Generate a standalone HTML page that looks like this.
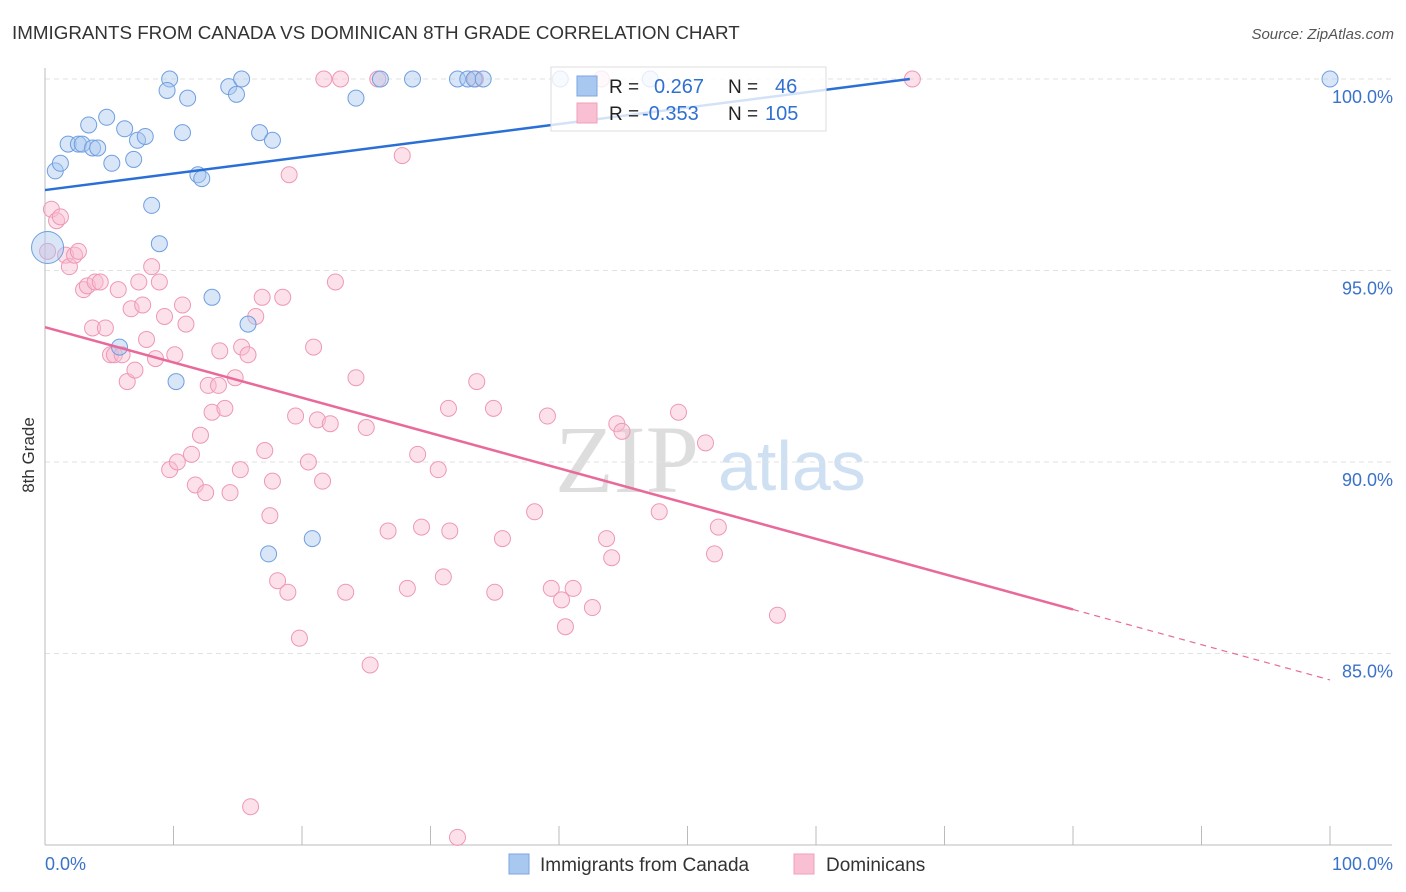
<!DOCTYPE html>
<html><head><meta charset="utf-8"><style>
body{margin:0;background:#fff;font-family:"Liberation Sans",sans-serif;}
#wrap{position:relative;width:1406px;height:892px;overflow:hidden;}
</style></head><body>
<div id="wrap">
<svg id="svg" width="1406" height="892" xmlns="http://www.w3.org/2000/svg">
<text x="12" y="39" font-size="18.8" fill="#333">IMMIGRANTS FROM CANADA VS DOMINICAN 8TH GRADE CORRELATION CHART</text>
<text x="1394" y="39" font-size="15" fill="#555" text-anchor="end" font-style="italic">Source: ZipAtlas.com</text>
<text x="34" y="455" font-size="17" fill="#333" text-anchor="middle" transform="rotate(-90 34 455)">8th Grade</text>
<text x="555" y="492" font-size="96" fill="#ddd" font-family="Liberation Serif">ZIP</text>
<text x="718" y="490" font-size="70" fill="#cfe0f3">atlas</text>
<g id="grid"></g><g id="pts"></g><g id="lines"></g>
<g>
<rect x="551" y="67" width="275" height="64" fill="#fff" fill-opacity="0.8" stroke="#ddd"/>
<rect x="577" y="76" width="20" height="20" fill="#a9c8f0" stroke="#7aa6e0"/>
<rect x="577" y="103" width="20" height="20" fill="#f8c0d2" stroke="#f0a0ba"/>
<text x="609" y="93" font-size="19" fill="#222">R = </text><text x="654" y="93" font-size="20" fill="#3070d0">0.267</text>
<text x="728" y="93" font-size="19" fill="#222">N = </text><text x="775" y="93" font-size="20" fill="#3070d0">46</text>
<text x="609" y="120" font-size="19" fill="#222">R = </text><text x="642" y="120" font-size="20" fill="#3070d0">-0.353</text>
<text x="728" y="120" font-size="19" fill="#222">N = </text><text x="765" y="120" font-size="20" fill="#3070d0">105</text>
</g>
<g>
<rect x="509" y="854" width="20" height="20" fill="#a9c8f0" stroke="#7aa6e0"/>
<text x="540" y="871" font-size="19" fill="#333">Immigrants from Canada</text>
<rect x="794" y="854" width="20" height="20" fill="#f8c0d2" stroke="#f0a0ba"/>
<text x="826" y="871" font-size="19" fill="#333">Dominicans</text>
</g>
</svg>
</div>
<script>
const blueX=[0.8,1.2,1.8,2.6,2.9,3.4,3.7,4.1,4.8,5.2,6.2,6.9,7.2,7.8,8.3,8.9,9.7,9.5,10.7,11.1,11.9,12.2,12.996,14.3,14.9,15.3,15.8,16.7,17.7,24.2,26.1,28.6,32.1,32.9,33.4,34.1,40.1,47.1,100,5.8,10.2,17.4,20.8,0.2];
const blueY=[97.6,97.8,98.3,98.3,98.3,98.8,98.2,98.2,99.0,97.8,98.7,97.9,98.4,98.5,96.7,95.7,100,99.7,98.6,99.5,97.5,97.4,94.3,99.8,99.6,100,93.6,98.6,98.4,99.5,100,100,100,100,100,100,100,100,100,93.0,92.1,87.6,88.0,95.6];
const pinkX=[0.2,0.5,0.9,1.2,1.6,1.9,2.3,2.6,3.0,3.3,3.7,3.9,4.3,4.7,5.1,5.4,5.7,6.0,6.4,6.7,7.0,7.3,7.6,7.9,8.3,8.6,8.9,9.3,9.7,10.1,10.3,10.7,10.97,11.4,11.7,12.1,12.5,12.7,13.0,13.5,13.6,14.0,14.4,14.8,15.2,15.3,15.8,16.4,16.9,17.1,17.5,17.7,18.1,18.5,18.9,19.0,19.5,19.8,20.5,20.9,21.2,21.6,21.7,22.2,22.6,23.0,23.4,24.2,25.0,25.3,25.9,26.7,27.8,28.2,29.0,29.3,30.6,31.0,31.4,31.5,32.1,33.5,33.6,34.9,35.0,35.6,38.1,39.1,39.4,40.2,40.5,41.1,42.6,43.7,44.1,44.5,47.8,44.9,49.3,51.4,52.1,52.4,57.0,67.5,43.3,16.0];
const pinkY=[95.5,96.6,96.3,96.4,95.4,95.1,95.4,95.5,94.5,94.6,93.5,94.7,94.7,93.5,92.8,92.8,94.5,92.8,92.1,94.0,92.4,94.7,94.1,93.2,95.1,92.7,94.7,93.8,89.8,92.8,90.0,94.1,93.6,90.2,89.4,90.7,89.2,92.0,91.3,92.0,92.9,91.4,89.2,92.2,89.8,93.0,92.8,93.8,94.3,90.3,88.6,89.5,86.9,94.3,86.6,97.5,91.2,85.4,90.0,93.0,91.1,89.5,100,91.0,94.7,100,86.6,92.2,90.9,84.7,100,88.2,98.0,86.7,90.2,88.3,89.8,87.0,91.4,88.2,80.2,100,92.1,91.4,86.6,88.0,88.7,91.2,86.7,86.4,85.7,86.7,86.2,88.0,87.5,91.0,88.7,90.8,91.3,90.5,87.6,88.3,86.0,100,100,81.0];
const blueLine=[[0,97.1],[67.3,100.0]];
const pinkLine=[[0,93.52],[80,86.15],[100,84.31]];
const yTicks=[100,95,90,85];
const xTickLabels=["0.0%","100.0%"];
const X=v=>45+v*12.85, Y=v=>79+(100-v)*38.3;
const NS="http://www.w3.org/2000/svg";
function mk(p,t,a){const e=document.createElementNS(NS,t);for(const k in a)e.setAttribute(k,a[k]);p.appendChild(e);return e;}
const g=document.getElementById('grid');
yTicks.forEach(t=>{
 const l=mk(g,'line',{x1:45,x2:1392,y1:Y(t),y2:Y(t),stroke:'#e2e2e2','stroke-dasharray':'5,4'});
 
 
 const tx=mk(g,'text',{x:1393,y:Y(t)+24,'font-size':18,fill:'#3a72c8','text-anchor':'end'});
 tx.textContent=t.toFixed(1)+'%';
 
 
});
const ax=mk(g,'line',{x1:45,x2:45,y1:68,y2:845,stroke:'#bbb'});


const bx=mk(g,'line',{x1:45,x2:1392,y1:845,y2:845,stroke:'#bbb'});


for(let i=0;i<=10;i++){const t=mk(g,'line',{x1:X(i*10),x2:X(i*10),y1:826,y2:845,stroke:'#bbb'});
 
 }
xTickLabels.forEach((s,i)=>{const t=mk(g,'text',{x:i?1393:45,y:870,'font-size':18,fill:'#3a72c8','text-anchor':i?'end':'start'});t.textContent=s;
 
 });
const pg=document.getElementById('pts');
pinkX.forEach((x,i)=>{const c=mk(pg,'circle',{cx:X(x),cy:Y(pinkY[i]),r:8,fill:'#f8bcd0','fill-opacity':0.45,stroke:'#ee98b6','stroke-width':1});
 
 });
blueX.forEach((x,i)=>{const c=mk(pg,'circle',{cx:X(x),cy:Y(blueY[i]),r:i==blueX.length-1?16:8,fill:'#a9c8f0','fill-opacity':0.45,stroke:'#6f9fe0','stroke-width':1});
 
 });
const lg=document.getElementById('lines');
const bl=mk(lg,'line',{x1:X(blueLine[0][0]),y1:Y(blueLine[0][1]),x2:X(blueLine[1][0]),y2:Y(blueLine[1][1]),stroke:'#2a6fd6','stroke-width':2.5});


const pl=mk(lg,'line',{x1:X(pinkLine[0][0]),y1:Y(pinkLine[0][1]),x2:X(pinkLine[1][0]),y2:Y(pinkLine[1][1]),stroke:'#e8699a','stroke-width':2.5});


const pd=mk(lg,'line',{x1:X(pinkLine[1][0]),y1:Y(pinkLine[1][1]),x2:X(pinkLine[2][0]),y2:Y(pinkLine[2][1]),stroke:'#e8699a','stroke-width':1.2,'stroke-dasharray':'6,5'});


</script>
</body></html>
